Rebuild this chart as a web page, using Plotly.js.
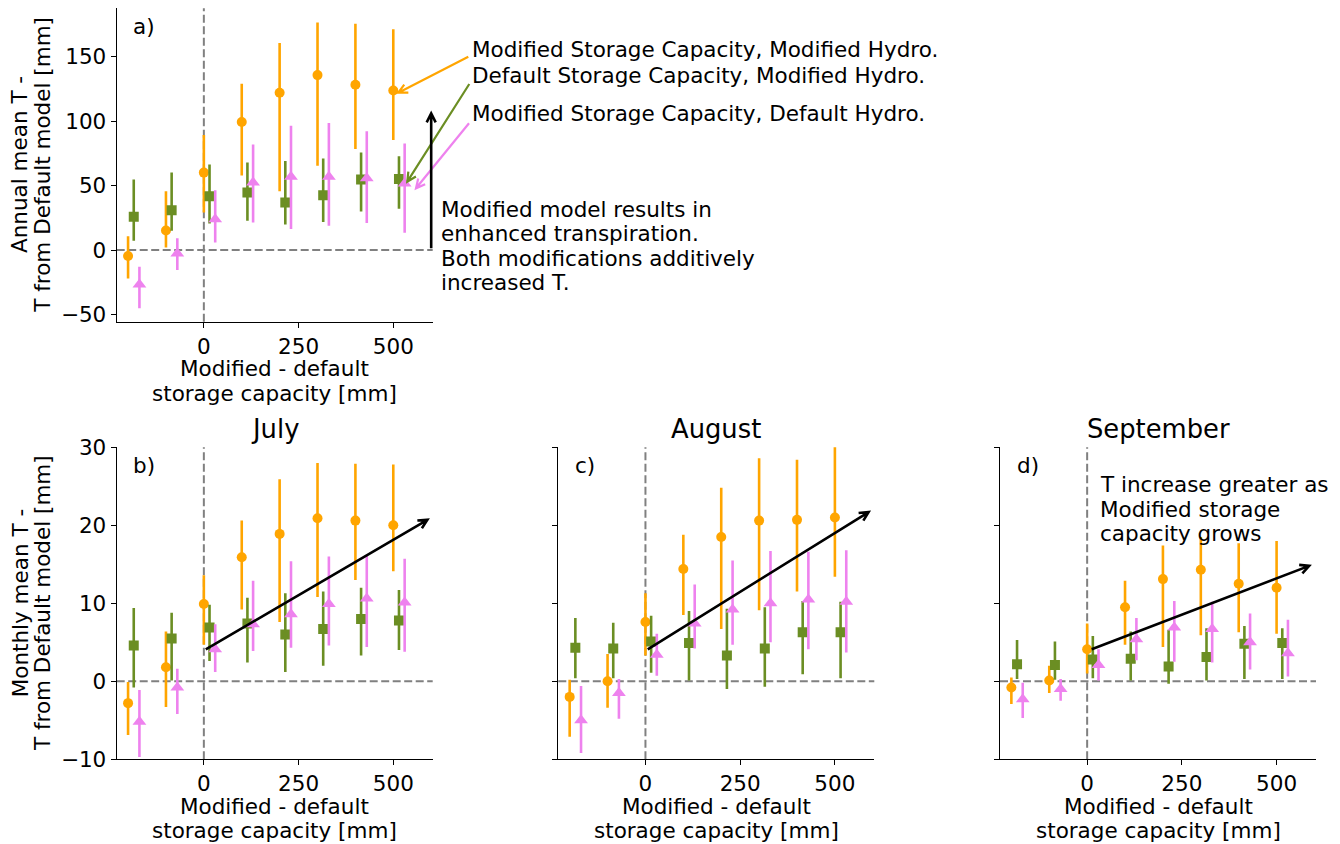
<!DOCTYPE html>
<html><head><meta charset="utf-8">
<script src="https://cdn.plot.ly/plotly-3.0.1.min.js"></script>
<style>html,body{margin:0;padding:0;background:#fff}</style>
</head><body><div id="chart" style="width:1340px;height:844px"></div>
<script>
// ---------------- DATA ----------------
const storageCap = [-200, -100, 0, 100, 200, 300, 400, 500];
const seriesNames = ["Modified Storage Capacity, Modified Hydro.",
                     "Default Storage Capacity, Modified Hydro.",
                     "Modified Storage Capacity, Default Hydro."];
const panelTitles = ["", "July", "August", "September"];
const panelLetters = ["a)", "b)", "c)", "d)"];

// a) Annual
const annual_modSC_modH    = [-4.6, 15.2, 60.1, 99.3, 122.0, 135.7, 128.2, 123.8];
const annual_modSC_modH_hi = [10.8, 45.7, 89.3, 129.0, 160.5, 176.5, 175.5, 171.3];
const annual_modSC_modH_lo = [-22.0, 2.0, 29.2, 57.8, 45.7, 65.5, 78.4, 85.4];
const annual_defSC_modH    = [25.8, 31.0, 41.8, 44.6, 36.9, 42.6, 54.7, 55.2];
const annual_defSC_modH_hi = [54.7, 60.1, 66.3, 67.9, 69.1, 71.0, 75.6, 72.8];
const annual_defSC_modH_lo = [7.2, 15.0, 20.6, 22.7, 19.9, 21.9, 30.0, 32.0];
const annual_modSC_defH    = [-26.6, -2.6, 24.0, 52.4, 56.8, 56.8, 55.7, 51.6];
const annual_modSC_defH_hi = [-12.9, 9.3, 46.4, 81.8, 96.5, 98.5, 92.1, 82.6];
const annual_modSC_defH_lo = [-45.0, -15.5, 6.0, 21.4, 16.3, 18.8, 21.1, 13.4];

// b) July
const jul_modSC_modH    = [-2.8, 1.8, 9.9, 15.9, 18.9, 20.9, 20.6, 20.0];
const jul_modSC_modH_hi = [-0.1, 6.4, 13.6, 20.6, 25.9, 28.0, 27.9, 27.8];
const jul_modSC_modH_lo = [-6.9, -3.3, 4.7, 9.2, 7.6, 10.8, 13.0, 14.1];
const jul_defSC_modH    = [4.6, 5.5, 6.9, 7.4, 6.0, 6.7, 8.0, 7.8];
const jul_defSC_modH_hi = [9.4, 8.8, 9.8, 10.7, 11.3, 11.5, 12.0, 11.7];
const jul_defSC_modH_lo = [-0.8, 0.1, 2.6, 2.4, 1.2, 2.0, 3.3, 4.0];
const jul_modSC_defH    = [-5.2, -0.8, 4.1, 7.3, 8.6, 9.9, 10.6, 10.1];
const jul_modSC_defH_hi = [-1.1, 1.6, 7.3, 12.9, 15.4, 16.0, 16.2, 15.7];
const jul_modSC_defH_lo = [-9.7, -4.2, 1.2, 3.9, 4.3, 4.6, 4.4, 3.8];

// c) August
const aug_modSC_modH    = [-2.0, 0.0, 7.6, 14.4, 18.5, 20.6, 20.7, 21.0];
const aug_modSC_modH_hi = [0.2, 3.5, 11.3, 18.8, 24.8, 28.6, 28.4, 30.2];
const aug_modSC_modH_lo = [-7.1, -3.4, 3.3, 8.5, 6.7, 9.1, 11.5, 13.4];
const aug_defSC_modH    = [4.3, 4.2, 5.1, 4.9, 3.3, 4.2, 6.3, 6.3];
const aug_defSC_modH_hi = [8.1, 7.5, 8.4, 9.0, 9.3, 9.5, 10.3, 10.2];
const aug_defSC_modH_lo = [0.4, 0.4, 1.1, 0.1, -1.0, -0.7, 0.9, 0.4];
const aug_modSC_defH    = [-5.0, -1.5, 3.4, 7.4, 9.2, 10.0, 10.5, 10.2];
const aug_modSC_defH_hi = [-0.6, 0.3, 6.1, 12.4, 15.5, 16.7, 16.6, 16.8];
const aug_modSC_defH_lo = [-9.2, -4.8, 0.7, 4.2, 4.7, 5.0, 4.1, 3.7];

// d) September
const sep_modSC_modH    = [-0.8, 0.1, 4.1, 9.5, 13.1, 14.3, 12.5, 12.0];
const sep_modSC_modH_hi = [0.5, 2.0, 7.4, 12.9, 17.4, 18.5, 17.7, 18.0];
const sep_modSC_modH_lo = [-2.9, -1.5, 1.0, 4.7, 4.4, 5.9, 6.3, 6.1];
const sep_defSC_modH    = [2.2, 2.1, 2.8, 2.9, 1.9, 3.1, 4.8, 4.9];
const sep_defSC_modH_hi = [5.3, 5.1, 5.8, 6.4, 6.6, 6.8, 7.1, 6.8];
const sep_defSC_modH_lo = [0.3, 0.2, 0.4, 0.1, -0.3, 0.1, 0.3, 0.3];
const sep_modSC_defH    = [-2.3, -1.0, 2.1, 5.4, 6.9, 6.7, 5.0, 3.6];
const sep_modSC_defH_hi = [-0.2, 0.3, 4.1, 8.1, 10.3, 10.2, 8.7, 7.9];
const sep_modSC_defH_lo = [-4.7, -2.5, 0.1, 2.7, 2.5, 2.4, 1.5, 0.6];

// tick labels
const xTickVals = [0, 250, 500];
const xTickText = ["0", "250", "500"];
const yTickValsAnnual = [-50, 0, 50, 100, 150];
const yTickTextAnnual = ["\u221250", "0", "50", "100", "150"];
const yTickValsMonthly = [-10, 0, 10, 20, 30];
const yTickTextMonthly = ["\u221210", "0", "10", "20", "30"];

// trend arrows (data coords: tail x, tail y, head x, head y)
const trendArrowJul = [5, 4.1, 590, 20.7];
const trendArrowAug = [6, 4.1, 589, 21.7];
const trendArrowSep = [12, 4.1, 586, 14.8];
const annualArrow = [600, 1.4, 600, 106];

// ---------------- STYLE / LAYOUT ----------------
const W = 1340, H = 844;
const FONT = "DejaVu Sans, Verdana, sans-serif";
const FS = 21.5;
const FS_TITLE = 25.8;
const COLORS = ["#FFA500", "#6B8E23", "#EE82EE"];
const SYMBOLS = ["circle", "square", "triangle-up"];
const SIZES = [10, 10, 12];
const DODGE = [0, 15, 30];

const boxes = [
  {x0: 116.7, x1: 432.7, y0: 8.3,   y1: 321.7, xr: [-230, 604], yr: [-55.5, 187.5]},
  {x0: 116.7, x1: 432.7, y0: 447.3, y1: 759.3, xr: [-230, 604], yr: [-10, 30]},
  {x0: 558.3, x1: 874.3, y0: 447.3, y1: 759.3, xr: [-230, 604], yr: [-10, 30]},
  {x0: 1000,  x1: 1316,  y0: 447.3, y1: 759.3, xr: [-230, 604], yr: [-10, 30]}
];

const panels = [
  [[annual_modSC_modH, annual_modSC_modH_lo, annual_modSC_modH_hi],
   [annual_defSC_modH, annual_defSC_modH_lo, annual_defSC_modH_hi],
   [annual_modSC_defH, annual_modSC_defH_lo, annual_modSC_defH_hi]],
  [[jul_modSC_modH, jul_modSC_modH_lo, jul_modSC_modH_hi],
   [jul_defSC_modH, jul_defSC_modH_lo, jul_defSC_modH_hi],
   [jul_modSC_defH, jul_modSC_defH_lo, jul_modSC_defH_hi]],
  [[aug_modSC_modH, aug_modSC_modH_lo, aug_modSC_modH_hi],
   [aug_defSC_modH, aug_defSC_modH_lo, aug_defSC_modH_hi],
   [aug_modSC_defH, aug_modSC_defH_lo, aug_modSC_defH_hi]],
  [[sep_modSC_modH, sep_modSC_modH_lo, sep_modSC_modH_hi],
   [sep_defSC_modH, sep_defSC_modH_lo, sep_defSC_modH_hi],
   [sep_modSC_defH, sep_modSC_defH_lo, sep_modSC_defH_hi]]
];

const PX = x => x / W;
const PY = y => 1 - y / H;
function d2p(b, x, y) {
  return [b.x0 + (x - b.xr[0]) / (b.xr[1] - b.xr[0]) * (b.x1 - b.x0),
          b.y1 - (y - b.yr[0]) / (b.yr[1] - b.yr[0]) * (b.y1 - b.y0)];
}
function arrowShape(p0, p1, color, width, L, hw) {
  const dx = p1[0] - p0[0], dy = p1[1] - p0[1];
  const len = Math.hypot(dx, dy);
  const ux = dx / len, uy = dy / len;
  const nx = -uy, ny = ux;
  const b1 = [p1[0] - ux * L + nx * hw, p1[1] - uy * L + ny * hw];
  const b2 = [p1[0] - ux * L - nx * hw, p1[1] - uy * L - ny * hw];
  const f = p => PX(p[0]).toFixed(5) + "," + PY(p[1]).toFixed(5);
  return {type: "path", xref: "paper", yref: "paper", layer: "above",
          path: "M" + f(p0) + " L" + f(p1) + " M" + f(b1) + " L" + f(p1) + " L" + f(b2),
          line: {color: color, width: width}};
}

const traces = [];
const layout = {
  width: W, height: H, margin: {l: 0, r: 0, t: 0, b: 0},
  paper_bgcolor: "#fff", plot_bgcolor: "#fff",
  showlegend: false, font: {family: FONT, size: FS, color: "#000"},
  shapes: [], annotations: []
};

function txt(x, y, t, opts) {
  return Object.assign({xref: "paper", yref: "paper", x: PX(x), y: PY(y),
                        xanchor: "left", yanchor: "middle", showarrow: false, text: t,
                        borderpad: 0, font: {family: FONT, size: FS, color: "#000"}}, opts || {});
}

panels.forEach((series, pi) => {
  const b = boxes[pi];
  const sfx = pi === 0 ? "" : String(pi + 1);
  const xa = "x" + sfx, ya = "y" + sfx;
  series.forEach((s, si) => {
    const [c, lo, hi] = s;
    traces.push({
      type: "scatter", mode: "markers", name: seriesNames[si],
      xaxis: xa, yaxis: ya,
      x: storageCap.map(v => v + DODGE[si]), y: c,
      marker: {symbol: SYMBOLS[si], size: SIZES[si], color: COLORS[si], line: {width: 0}},
      error_y: {type: "data", symmetric: false,
                array: hi.map((h, k) => h - c[k]),
                arrayminus: lo.map((l, k) => c[k] - l),
                color: COLORS[si], thickness: 2.6, width: 0},
      cliponaxis: true, hoverinfo: "x+y"
    });
  });
  const common = {
    showline: true, linecolor: "#000", linewidth: 1.1, mirror: false,
    ticks: "outside", ticklen: 5, tickwidth: 1.1, tickcolor: "#000",
    showgrid: false, zeroline: false, fixedrange: true,
    tickfont: {family: FONT, size: FS, color: "#000"}
  };
  layout["xaxis" + sfx] = Object.assign({}, common, {
    domain: [PX(b.x0), PX(b.x1)], range: b.xr, anchor: ya,
    tickmode: "array", tickvals: xTickVals, ticktext: xTickText
  });
  layout["yaxis" + sfx] = Object.assign({}, common, {
    domain: [PY(b.y1), PY(b.y0)], range: b.yr, anchor: xa,
    tickmode: "array",
    tickvals: pi === 0 ? yTickValsAnnual : yTickValsMonthly,
    ticktext: pi === 0 ? yTickTextAnnual : yTickTextMonthly,
    showticklabels: pi <= 1
  });
  // dashed zero lines
  layout.shapes.push({type: "line", xref: xa + " domain", x0: 0, x1: 1, yref: ya, y0: 0, y1: 0,
                      layer: "below", line: {color: "#808080", width: 2, dash: "8px,3.5px"}});
  layout.shapes.push({type: "line", xref: xa, x0: 0, x1: 0, yref: ya + " domain", y0: 0, y1: 1,
                      layer: "below", line: {color: "#808080", width: 2, dash: "8px,3.5px"}});
  // panel letter
  layout.annotations.push(txt(b.x0 + 15.5, b.y0 + 18.5, panelLetters[pi]));
  // title
  if (panelTitles[pi]) {
    layout.annotations.push(txt((b.x0 + b.x1) / 2, b.y0 - 18, panelTitles[pi],
      {xanchor: "center", font: {family: FONT, size: FS_TITLE, color: "#000"}}));
  }
  // x axis label (two lines)
  ["Modified - default", "storage capacity [mm]"].forEach((t, li) => {
    layout.annotations.push(txt((b.x0 + b.x1) / 2, b.y1 + 47 + li * 24.4, t, {xanchor: "center"}));
  });
});

// y axis labels
[[0, "Annual mean T -", "T from Default model [mm]"],
 [1, "Monthly mean T -", "T from Default model [mm]"]].forEach(([pi, l1, l2]) => {
  const b = boxes[pi];
  [l1, l2].forEach((t, li) => {
    layout.annotations.push(txt(20 + li * 22.7, (b.y0 + b.y1) / 2, t,
      {xanchor: "center", textangle: -90}));
  });
});

// panel a annotations
const seriesLabelY = [49.2, 75, 113.5];
seriesNames.forEach((t, i) => {
  layout.annotations.push(txt(470.5, seriesLabelY[i], t));
});
const noteA = ["Modified model results in", "enhanced transpiration.",
               "Both modifications additively", "increased T."];
noteA.forEach((t, i) => {
  layout.annotations.push(txt(440, 209.5 + i * 24.3, t));
});
const noteD = ["T increase greater as", "Modified storage", "capacity grows"];
noteD.forEach((t, i) => {
  layout.annotations.push(txt(1098.8, 485 + i * 24.4, t));
});

// pointer arrows from the series labels (pixel positions of label tails / tips)
layout.shapes.push(arrowShape([468.3, 56.7], [398.3, 92.7], COLORS[0], 2.2, 9, 4.5));
layout.shapes.push(arrowShape([469.3, 84.0], [407.3, 181.7], COLORS[1], 2.2, 9, 4.5));
layout.shapes.push(arrowShape([469.0, 123.3], [416.0, 188.3], COLORS[2], 2.2, 9, 4.5));

// black arrows in data coordinates
const aArr = annualArrow;
layout.shapes.push(arrowShape(d2p(boxes[0], aArr[0], aArr[1]), d2p(boxes[0], aArr[2], aArr[3]), "#000", 2.6, 9, 4.5));
[[1, trendArrowJul], [2, trendArrowAug], [3, trendArrowSep]].forEach(([pi, a]) => {
  layout.shapes.push(arrowShape(d2p(boxes[pi], a[0], a[1]), d2p(boxes[pi], a[2], a[3]), "#000", 2.6, 9, 4.5));
});

Plotly.newPlot("chart", traces, layout, {displayModeBar: false, staticPlot: true});
</script>
</body></html>
